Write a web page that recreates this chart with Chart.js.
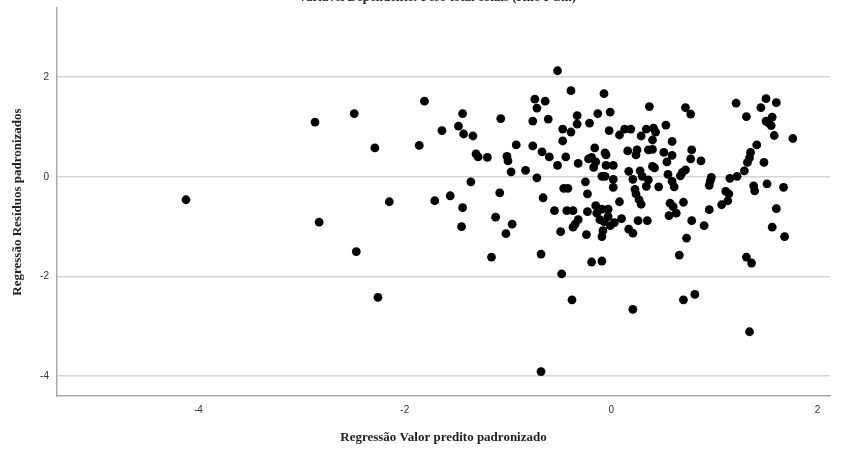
<!DOCTYPE html>
<html>
<head>
<meta charset="utf-8">
<script src="https://cdn.jsdelivr.net/npm/chart.js@4"></script>
<style>
  html, body { margin: 0; padding: 0; background: #fff; }
  #wrap { width: 846px; height: 452px; }
</style>
</head>
<body>
<div id="wrap"><canvas id="residChart" width="846" height="452"></canvas></div>
<script>
// ================= DATA =================

const chartTitle = "Variável Dependente: Peso total cetais (Kilo FCm)";
const xTitle = "Regressão Valor predito padronizado";
const yTitle = "Regressão Resíduos padronizados";

const xTicks = [-4, -2, 0, 2];
const yTicks = [-4, -2, 0, 2];
const xLabels = ["-4", "-2", "0", "2"];
const yLabels = ["-4", "-2", "0", "2"];

// standardized predicted value (x) and standardized residual (y), same order
const predicted = [
  -4.12, -2.87, -2.83, -2.49, -2.47, -2.29, -2.26, -2.15, -1.86, -1.81, -1.71, -1.64, -1.56, -1.48, -1.44, -1.43, -1.44, -1.45,
  -1.36, -1.34, -1.31, -1.29, -1.20, -1.07, -1.01, -1.00, -0.92, -0.97, -0.83, -0.76, -0.76, -0.74, -0.72, -0.64, -0.61, -0.67,
  -0.60, -0.72, -0.52, -0.52, -0.44, -0.47, -0.47, -0.39, -0.39, -0.33, -0.33, -0.32, -0.21, -0.13, -0.07, -0.01, -0.02, -0.16,
  -0.22, -0.19, -0.17, -0.15, -0.06, -0.05, -0.05, 0.02, -0.09, -0.06, 0.02, 0.08, 0.13, 0.19, 0.29, 0.34, 0.37, 0.16,
  0.25, 0.24, 0.36, 0.17, 0.28, 0.30, 0.21, 0.36,
  -1.08, -1.12, -0.96, -1.02, -1.16, -0.68, -0.66, -0.55, -0.49, -0.48, -0.46, -0.42, -0.43, -0.37, -0.37, -0.35, -0.32, -0.25,
  -0.23, -0.23, -0.24, -0.15, -0.14, -0.11, -0.09, -0.07, -0.08, -0.09, -0.03, -0.03, -0.01, 0.03, -0.19, -0.09, 0.02, 0.08,
  0.10, 0.17, 0.21, 0.23, 0.24, 0.27, 0.29, 0.26, 0.35, 0.34,
  0.41, 0.43, 0.40, 0.53, 0.72, 0.77, 0.59, 0.40, 0.51, 0.59, 0.78, 0.77, 0.87, 0.54, 0.40, 0.42, 0.55, 0.67,
  0.69, 0.72, 0.97, 1.15, 1.22, 1.29, 1.32, 1.34, 1.35, 1.41, 1.48, 1.21, 1.31, 1.50, 1.60, 1.45, 1.56, 1.50,
  1.52, 1.55, 1.58, 1.76,
  0.59, 0.61, 0.46, 0.96, 0.95, 1.38, 1.39, 1.51, 1.67, 0.57, 0.60, 0.63, 0.56, 0.70, 0.78, 0.90, 0.73, 0.66,
  0.95, 1.07, 1.13, 1.11, 1.14, 1.60, 1.56, 1.68, 1.31, 1.36,
  -0.38, 0.21, 0.70, 0.81, 1.34, -0.68
];

const residuals = [
  -0.46, 1.10, -0.91, 1.27, -1.50, 0.58, -2.42, -0.50, 0.63, 1.52, -0.48, 0.93, -0.38, 1.02, 1.27, 0.86, -0.62, -1.00,
  -0.10, 0.82, 0.46, 0.40, 0.39, 1.17, 0.41, 0.32, 0.64, 0.10, 0.13, 0.62, 1.12, 1.56, 1.38, 1.52, 1.16, 0.50,
  0.40, -0.02, 0.23, 2.13, 0.40, 0.72, 0.96, 0.90, 1.73, 1.23, 1.06, 0.27, 1.08, 1.27, 1.67, 1.30, 0.93, 0.58,
  0.36, 0.39, 0.19, 0.30, 0.48, 0.44, 0.23, 0.23, 0.01, 0.01, -0.05, 0.84, 0.96, 0.96, 0.82, 0.96, 1.41, 0.52,
  0.54, 0.44, 0.54, 0.11, 0.12, 0.01, -0.05, -0.06,
  -0.32, -0.81, -0.95, -1.14, -1.61, -1.55, -0.42, -0.68, -1.10, -1.95, -0.23, -0.23, -0.68, -0.68, -1.01, -0.95, -0.86, -0.10,
  -0.34, -0.70, -1.16, -0.58, -0.73, -0.86, -0.65, -0.90, -1.08, -1.20, -0.65, -0.80, -0.98, -0.92, -1.71, -1.69, -0.21, -0.50,
  -0.84, -1.05, -1.13, -0.25, -0.34, -0.46, -0.55, -0.88, -0.88, -0.19,
  0.98, 0.90, 0.74, 1.04, 1.39, 1.26, 0.71, 0.55, 0.49, 0.43, 0.54, 0.36, 0.32, 0.30, 0.21, 0.18, 0.05, 0.02,
  0.09, 0.14, -0.01, -0.03, 0.01, 0.12, 0.29, 0.38, 0.49, 0.64, 0.29, 1.48, 1.21, 1.57, 1.49, 1.39, 1.20, 1.12,
  1.09, 1.03, 0.83, 0.77,
  -0.09, -0.20, -0.20, -0.08, -0.17, -0.18, -0.28, -0.14, -0.21, -0.53, -0.60, -0.73, -0.78, -0.51, -0.88, -0.98, -1.23, -1.57,
  -0.66, -0.56, -0.48, -0.29, -0.34, -0.64, -1.01, -1.20, -1.61, -1.73,
  -2.47, -2.66, -2.47, -2.36, -3.11, -3.91
];

// ================= CHART =================

const points = predicted.map((x, i) => ({ x: x, y: residuals[i] }));

// title is cut off at the top edge in the original export
const clippedTitle = {
  id: "clippedTitle",
  afterDraw(chart) {
    const ctx = chart.ctx;
    ctx.save();
    ctx.font = "bold 13px 'Liberation Serif', serif";
    ctx.fillStyle = "#222";
    ctx.textAlign = "center";
    ctx.textBaseline = "alphabetic";
    ctx.fillText(chartTitle, 437, 1);
    ctx.restore();
  }
};

const ctx = document.getElementById("residChart").getContext("2d");
const residChart = new Chart(ctx, {
  type: "scatter",
  data: {
    datasets: [{
      data: points,
      backgroundColor: "#000",
      borderWidth: 0,
      pointRadius: 4.4,
      pointHoverRadius: 4.4
    }]
  },
  options: {
    responsive: false,
    animation: false,
    events: [],
    layout: { padding: { top: 8, right: 16, left: 0, bottom: 0 } },
    plugins: {
      legend: { display: false },
      tooltip: { enabled: false }
    },
    scales: {
      x: {
        type: "linear",
        min: -5.37,
        max: 2.12,
        afterBuildTicks: (scale) => { scale.ticks = xTicks.map(v => ({ value: v })); },
        afterFit: (scale) => { scale.height = 56; scale.paddingLeft = 0; scale.paddingRight = 0; },
        grid: { display: false, drawTicks: false },
        border: { display: true, color: "#a8a8a8", width: 1.5 },
        ticks: {
          padding: 8,
          color: "#333",
          font: { family: "'Liberation Sans', Arial", size: 10 },
          callback: (v) => xLabels[xTicks.indexOf(v)]
        },
        title: {
          display: true,
          text: xTitle,
          color: "#222",
          font: { family: "'Liberation Serif', serif", size: 13, weight: "bold" },
          padding: { top: 0, bottom: 7 }
        }
      },
      y: {
        type: "linear",
        min: -4.40,
        max: 3.39,
        afterBuildTicks: (scale) => { scale.ticks = yTicks.map(v => ({ value: v })); },
        afterFit: (scale) => { scale.width = 57; scale.paddingTop = 0; scale.paddingBottom = 0; },
        grid: { color: "#d4d4d4", lineWidth: 1.5, drawTicks: false },
        border: { display: true, color: "#a8a8a8", width: 1.5 },
        ticks: {
          padding: 8,
          color: "#333",
          font: { family: "'Liberation Sans', Arial", size: 10 },
          callback: (v) => yLabels[yTicks.indexOf(v)]
        },
        title: {
          display: true,
          text: yTitle,
          color: "#222",
          font: { family: "'Liberation Serif', serif", size: 13, weight: "bold" },
          padding: { top: 10, bottom: 0 }
        }
      }
    }
  },
  plugins: [clippedTitle]
});
</script>
</body>
</html>
